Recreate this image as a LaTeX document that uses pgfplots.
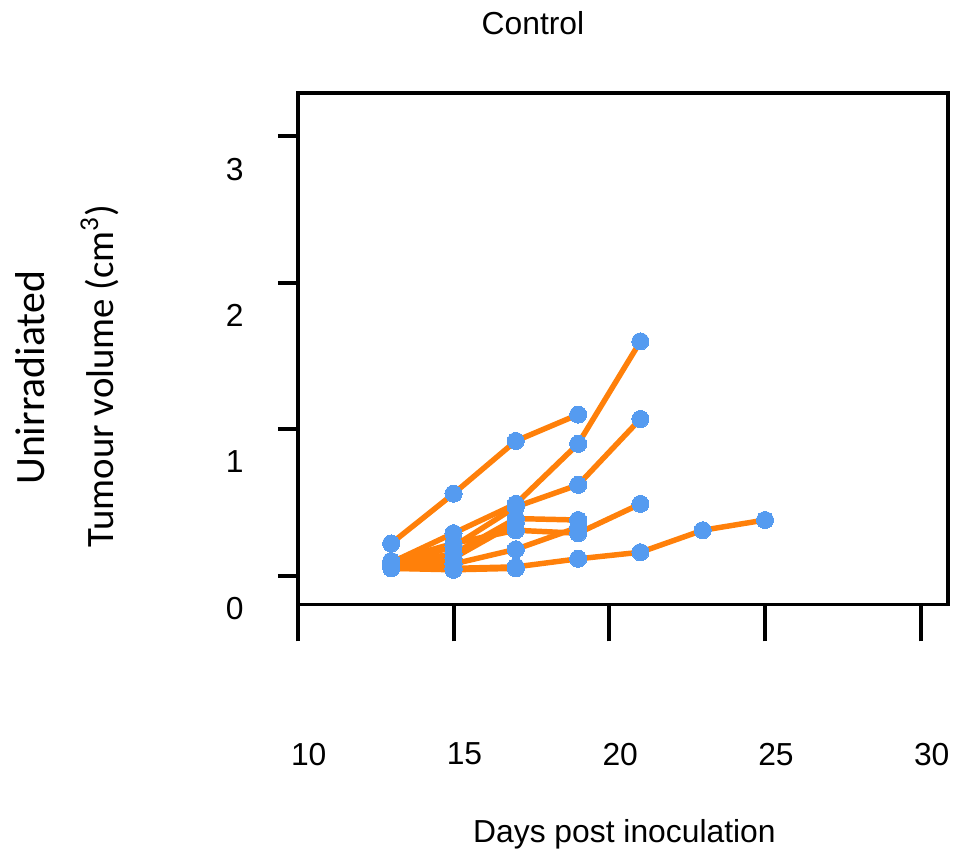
\documentclass[border=0pt]{standalone}
\usepackage{fontspec}
\setmainfont{Liberation Sans}
\newfontfamily\calib{Carlito}
\usepackage{pgfplots}
\usepackage{pgfplotstable}
\pgfplotsset{compat=1.18}
\definecolor{lineor}{RGB}{255,128,10}
\definecolor{markbl}{RGB}{85,155,240}

\pgfplotstableread{
x y
13 0.22
15 0.56
17 0.92
19 1.10
}\mA
\pgfplotstableread{
x y
13 0.09
15 0.29
17 0.49
19 0.90
21 1.60
}\mB
\pgfplotstableread{
x y
13 0.07
15 0.20
17 0.47
19 0.62
21 1.07
}\mC
\pgfplotstableread{
x y
13 0.10
15 0.22
17 0.31
19 0.29
21 0.49
}\mD
\pgfplotstableread{
x y
13 0.05
15 0.05
17 0.06
19 0.115
21 0.16
23 0.31
25 0.38
}\mE
\pgfplotstableread{
x y
13 0.08
15 0.15
17 0.39
19 0.38
}\mF
\pgfplotstableread{
x y
13 0.06
15 0.08
17 0.18
19 0.33
}\mG
\pgfplotstableread{
x y
13 0.05
15 0.04
17 0.05
}\mH
\pgfplotstableread{
x y
13 0.06
15 0.12
17 0.36
}\mI

\pgfplotsset{
  mline/.style={color=lineor, line width=2.75pt, no markers},
  mdot/.style={color=markbl, only marks, mark=*, mark size=4.3pt, mark options={fill=markbl, draw=markbl, line width=0pt}},
}

\begin{document}
\begin{tikzpicture}
\path (0,0) rectangle (478pt,428pt);
\begin{axis}[
  at={(149.75pt,124pt)}, anchor=south west,
  scale only axis, width=326.75pt, height=257pt,
  xmin=10, xmax=30.86, ymin=-0.197, ymax=3.293,
  axis line style={line width=2pt, black},
  xtick={10,15,20,25,30}, ytick={0,1,2,3},
  tick align=outside, xtick pos=bottom, ytick pos=left,
  x tick style={line width=2pt, black, /pgfplots/major tick length=18.5pt},
  y tick style={line width=2pt, black, /pgfplots/major tick length=10pt},
  /pgf/number format/assume math mode=true,
  ticklabel style={font=\fontsize{16pt}{19pt}\selectfont},
  xticklabel style={anchor=center, yshift=-71pt, xshift=5.5pt},
  yticklabel style={anchor=center, xshift=-27.5pt, yshift=-16.5pt},
  clip=false,
]
\addplot[mline] table {\mA};
\addplot[mline] table {\mB};
\addplot[mline] table {\mC};
\addplot[mline] table {\mD};
\addplot[mline] table {\mE};
\addplot[mline] table {\mF};
\addplot[mline] table {\mG};
\addplot[mline] table {\mH};
\addplot[mline] table {\mI};
\addplot[mdot] table {\mA};
\addplot[mdot] table {\mB};
\addplot[mdot] table {\mC};
\addplot[mdot] table {\mD};
\addplot[mdot] table {\mE};
\addplot[mdot] table {\mF};
\addplot[mdot] table {\mG};
\addplot[mdot] table {\mH};
\addplot[mdot] table {\mI};
\end{axis}
\node[font=\fontsize{16pt}{19pt}\selectfont] at (268pt,416.5pt) {Control};
\node[font=\fontsize{16pt}{19pt}\selectfont] at (314pt,8.5pt) {Days post inoculation};
\node[font=\calib\fontsize{21pt}{25pt}\selectfont, rotate=90] at (15pt,238pt) {Unirradiated};
\node[font=\calib\fontsize{19.5pt}{23pt}\selectfont, rotate=90] at (50pt,239pt) {Tumour volume (cm\textsuperscript{3})};
\end{tikzpicture}
\end{document}
